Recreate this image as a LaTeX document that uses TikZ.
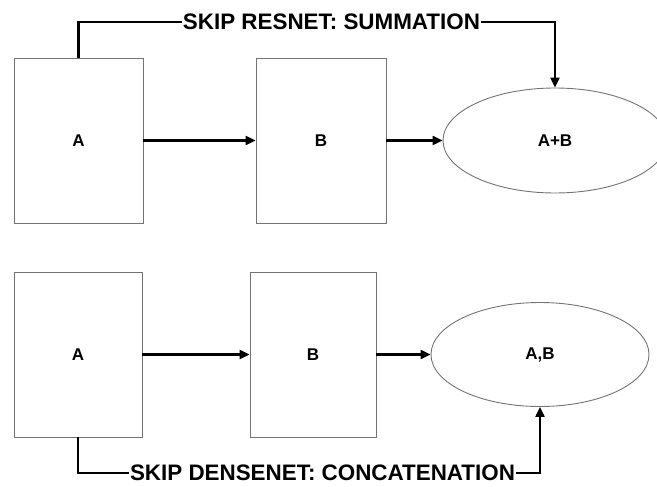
\documentclass[tikz,border=0pt]{standalone}
\usepackage{fontspec}
\setmainfont{Liberation Sans}
\usetikzlibrary{shapes.geometric,arrows.meta}
\begin{document}
\begin{tikzpicture}[x=1pt,y=-1pt,
  blockbox/.style={draw=black!55,line width=0.9pt,rectangle,minimum height=165pt,inner sep=0pt,font=\fontsize{17}{18}\selectfont\bfseries},
  outell/.style={draw=black!55,line width=0.9pt,ellipse,inner sep=0pt,font=\fontsize{17}{18}\selectfont\bfseries},
  conn/.style={line width=2.2pt,-{Triangle[length=10pt,width=9pt]}},
  skipline/.style={line width=2.2pt},
  skiplabel/.style={inner sep=1pt,text depth=0pt,font=\fontsize{22.4}{26}\selectfont\bfseries}]
\useasboundingbox (0,0) rectangle (657,487);
% top row
\node[blockbox,minimum width=129pt] (A1) at (78.5,140.5) {A};
\node[blockbox,minimum width=130pt] (B1) at (321,140.5) {B};
\node[outell,minimum width=224pt,minimum height=105pt] (E1) at (555,140.5) {A+B};
\node[skiplabel] (L1) at (331.5,22) {SKIP RESNET: SUMMATION};
\draw[conn] (A1.east) -- (B1.west);
\draw[conn] (B1.east) -- (E1.west);
\draw[skipline] (A1.north) |- (L1.west);
\draw[conn] (L1.east) -| (E1.north);
% bottom row
\node[blockbox,minimum width=128pt] (A2) at (78,354.5) {A};
\node[blockbox,minimum width=126pt] (B2) at (313,354.5) {B};
\node[outell,minimum width=218pt,minimum height=104pt] (E2) at (540,354.5) {A,B};
\node[skiplabel] (L2) at (322.5,473) {SKIP DENSENET: CONCATENATION};
\draw[conn] (A2.east) -- (B2.west);
\draw[conn] (B2.east) -- (E2.west);
\draw[skipline] (A2.south) |- (L2.west);
\draw[conn] (L2.east) -| (E2.south);
\end{tikzpicture}
\end{document}
